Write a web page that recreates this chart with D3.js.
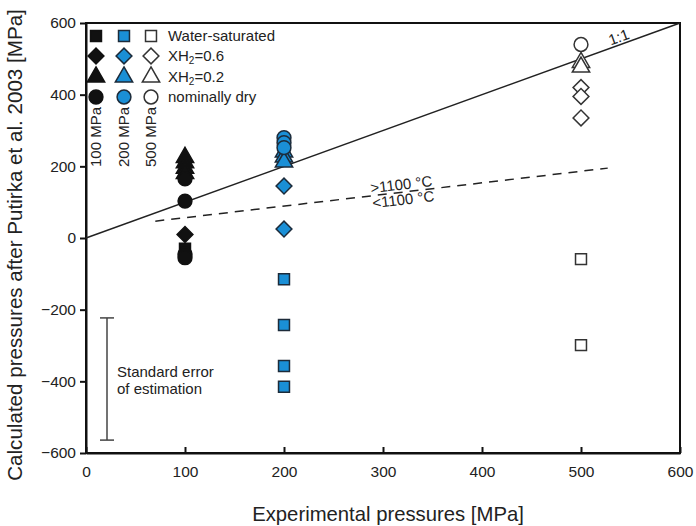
<!DOCTYPE html>
<html><head><meta charset="utf-8">
<script src="https://cdn.jsdelivr.net/npm/d3@7"></script>
<style>body{margin:0;background:#fff;} text{font-family:"Liberation Sans",Arial,sans-serif;fill:#222;}</style>
</head><body>
<svg id="c" width="696" height="526"></svg>
<script>
// ---- data ----
const xTicks = [0,100,200,300,400,500,600];
const yTicks = [-600,-400,-200,0,200,400,600];
const conditions = ["Water-saturated","XH2O=0.6","XH2O=0.2","nominally dry"];
const shapes = ["square","diamond","triangle","circle"];
const pressures = [100,200,500];
const pressureLabels = ["100 MPa","200 MPa","500 MPa"];
// calculated pressures per experimental pressure and condition
const p100_water = [-30];
const p100_x06 = [10];
const p100_x02 = [225,210,195,180];
const p100_dry = [165,103,-45,-55];
const p200_water = [-115,-243,-357,-415];
const p200_x06 = [145,25];
const p200_x02 = [240,226,212];
const p200_dry = [280,266,252];
const p500_water = [-59,-299];
const p500_x06 = [420,395,335];
const p500_x02 = [490,477];
const p500_dry = [540];
const oneToOne = [[0,0],[600,600]];
const tempBoundary = [[70,47],[527,195]];
const stdError = [-223,-564];

const svg = d3.select("#c");
const x = d3.scaleLinear().domain([0,600]).range([86,680]);
const y = d3.scaleLinear().domain([-600,600]).range([453,23]);
const blue = "#1a8fd6";
const styles = [{fill:"#111",stroke:"#111"},{fill:blue,stroke:"#1c2b3a"},{fill:"#fff",stroke:"#333"}];
const symMap = {square:d3.symbolSquare, diamond:d3.symbolSquare, triangle:d3.symbolTriangle, circle:d3.symbolCircle};
const sizeMap = {square:120, diamond:125, triangle:130, circle:150};
const rotMap = {square:0, diamond:45, triangle:0, circle:0};

// frame
svg.append("rect").attr("x",x(0)).attr("y",y(600)).attr("width",x(600)-x(0)).attr("height",y(-600)-y(600))
  .attr("fill","none").attr("stroke","#111").attr("stroke-width",2);

// axes
const xa = svg.append("g").attr("transform",`translate(0,${y(-600)})`)
  .call(d3.axisBottom(x).tickValues(xTicks).tickSizeInner(-6).tickSizeOuter(0).tickPadding(10));
const ya = svg.append("g").attr("transform",`translate(${x(0)},0)`)
  .call(d3.axisLeft(y).tickValues(yTicks).tickSize(6).tickSizeOuter(0).tickPadding(4));
[xa,ya].forEach(g=>{g.select(".domain").attr("stroke","#111").attr("stroke-width",2);
  g.selectAll(".tick line").attr("stroke","#111").attr("stroke-width",2);
  g.selectAll(".tick text").attr("font-size",15.5).attr("fill","#222").attr("font-family","Liberation Sans, Arial, sans-serif");});
xa.selectAll(".tick text").attr("dy","0.9em");

// axis titles
svg.append("text").attr("x",388).attr("y",521).attr("text-anchor","middle").attr("font-size",20.3).text("Experimental pressures [MPa]");
svg.append("text").attr("transform","translate(22,245) rotate(-90)").attr("text-anchor","middle").attr("font-size",20.6)
  .text("Calculated pressures after Putirka et al. 2003 [MPa]");

// lines
const line = d3.line().x(d=>x(d[0])).y(d=>y(d[1]));
svg.append("path").attr("d",line(oneToOne)).attr("stroke","#222").attr("stroke-width",1.5).attr("fill","none");
svg.append("path").attr("d",line(tempBoundary)).attr("stroke","#222").attr("stroke-width",1.5).attr("fill","none").attr("stroke-dasharray","9,7");

// line labels
const ang1 = Math.atan2(y(600)-y(0), x(600)-x(0))*180/Math.PI;
svg.append("text").attr("transform",`translate(${x(530)},${y(537)}) rotate(${ang1})`).attr("font-size",15).text("1:1");
const ang2 = Math.atan2(y(195)-y(47), x(527)-x(70))*180/Math.PI;
svg.append("text").attr("transform",`translate(${x(288)},${y(125)}) rotate(${ang2})`).attr("font-size",15).text(">1100 °C");
svg.append("text").attr("transform",`translate(${x(290)},${y(83)}) rotate(${ang2})`).attr("font-size",15).text("<1100 °C");

// data points
const data = [
  [p100_water,p100_x06,p100_x02,p100_dry],
  [p200_water,p200_x06,p200_x02,p200_dry],
  [p500_water,p500_x06,p500_x02,p500_dry]];
const pts = [];
data.forEach((grp,pi)=>grp.forEach((vals,ci)=>vals.forEach(v=>pts.push({p:pressures[pi],v,pi,ci}))));
const sym = s => d3.symbol().type(symMap[s]).size(sizeMap[s])();
svg.append("g").selectAll("path").data(pts).join("path")
  .attr("transform",d=>`translate(${x(d.p)},${y(d.v)}) rotate(${rotMap[shapes[d.ci]]})`)
  .attr("d",d=>sym(shapes[d.ci]))
  .attr("fill",d=>styles[d.pi].fill).attr("stroke",d=>styles[d.pi].stroke).attr("stroke-width",1.5);

// legend
const lg = svg.append("g");
const colX = [96,124,151], rowY = [36,56,77,97];
shapes.forEach((s,ri)=>{
  pressures.forEach((p,pi)=>{
    lg.append("path").attr("transform",`translate(${colX[pi]},${rowY[ri]}) rotate(${rotMap[s]})`)
      .attr("d",sym(s))
      .attr("fill",styles[pi].fill).attr("stroke",styles[pi].stroke).attr("stroke-width",1.5);
  });
  const t = lg.append("text").attr("x",168).attr("y",rowY[ri]+5).attr("font-size",15);
  const c = conditions[ri];
  if(c.startsWith("XH2O")){
    t.append("tspan").text("XH");
    t.append("tspan").attr("font-size",10).attr("dy",3).text("2");
    t.append("tspan").attr("dy",-3).text(c.slice(4));
  } else t.text(c);
});
pressureLabels.forEach((l,pi)=>{
  lg.append("text").attr("transform",`translate(${colX[pi]+5},${167}) rotate(-90)`).attr("font-size",15).text(l);
});

// standard error bar
const sx = 107;
svg.append("line").attr("x1",sx).attr("x2",sx).attr("y1",y(stdError[0])).attr("y2",y(stdError[1])).attr("stroke","#444").attr("stroke-width",1.5);
stdError.forEach(v=>svg.append("line").attr("x1",sx-7).attr("x2",sx+7).attr("y1",y(v)).attr("y2",y(v)).attr("stroke","#444").attr("stroke-width",1.5));
svg.append("text").attr("x",117).attr("y",377).attr("font-size",15).text("Standard error");
svg.append("text").attr("x",117).attr("y",394).attr("font-size",15).text("of estimation");
</script>
</body></html>
